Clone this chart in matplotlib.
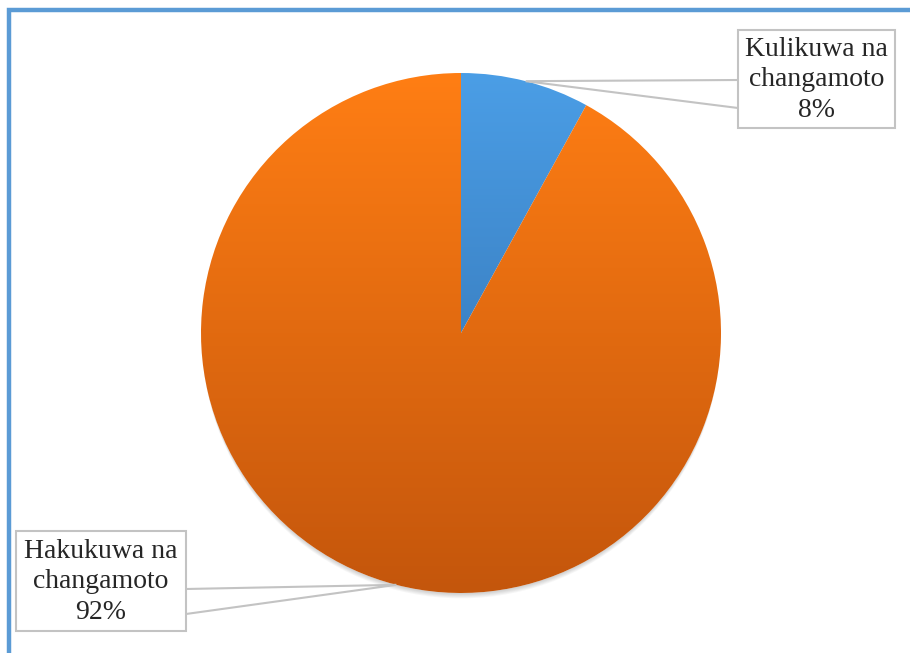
import numpy as np
import matplotlib.pyplot as plt
from matplotlib.patches import Circle, Rectangle
from matplotlib.colors import to_rgb

labels = ["Kulikuwa na\nchangamoto", "Hakukuwa na\nchangamoto"]
values = [8, 92]
top_colors = ["#4b9ee6", "#ff7e14"]
bottom_colors = ["#2d68a6", "#c4560c"]

W, H = 910, 653
fig = plt.figure(figsize=(W / 100, H / 100), dpi=100)
ax = fig.add_axes([0, 0, 1, 1])

def Y(y):
    # image row -> axes y
    return H - y

cx, cy, r = 461, Y(333), 260

# soft shadow under the pie (mostly below)
for i in range(7):
    ax.add_patch(Circle((cx, cy - 1 - i * 0.9), r - 1, color="black", alpha=0.03, lw=0, zorder=1))
ax.add_patch(Circle((cx, cy), r, color="white", lw=0, zorder=1.5))

wedges, _ = ax.pie(values, center=(cx, cy), radius=r, startangle=90, counterclock=False,
                   wedgeprops=dict(linewidth=0))
for w, c0, c1 in zip(wedges, top_colors, bottom_colors):
    w.set_facecolor("none")
    t = np.linspace(0, 1, 256)[:, None, None]
    grad = (1 - t) * np.array(to_rgb(c0)) + t * np.array(to_rgb(c1))
    im = ax.imshow(grad, extent=(cx - r, cx + r, cy - r, cy + r), origin="upper",
                   aspect="auto", zorder=2, interpolation="bilinear")
    im.set_clip_path(w)
ax.set_xlim(0, W)
ax.set_ylim(0, H)
ax.set_aspect("auto")
ax.axis("off")

# callout boxes (left, top, right, bottom in image pixels) and where the leader meets the box
boxes = [(738, 30, 895, 128), (16, 531, 186, 631)]
attach = [(80, 108), (589, 614)]
pcts = ["8%", "92%"]
angles = 90 - (np.cumsum(values) - np.array(values) / 2) / 100 * 360
gray = "#c3c3c3"
for (x0, y0, x1, y1), (ya, yb), lab, pct, a in zip(boxes, attach, labels, pcts, angles):
    px = cx + r * np.cos(np.radians(a))
    py = cy + r * np.sin(np.radians(a))
    ex = x0 if px < x0 else x1
    ax.plot([ex, px, ex], [Y(ya), py, Y(yb)], color=gray, lw=1.5, zorder=3,
            solid_joinstyle="miter")
    ax.add_patch(Rectangle((x0, Y(y1)), x1 - x0, y1 - y0, facecolor="white",
                           edgecolor=gray, lw=1.5, zorder=4))
    ax.text((x0 + x1) / 2, Y((y0 + y1) / 2) - 1, lab + "\n" + pct, ha="center", va="center",
            fontsize=20, family="Liberation Serif", color="#262626", linespacing=1.3,
            zorder=5)

# blue frame on left and top
ax.plot([8.5, 8.5, W], [0, Y(9.5), Y(9.5)], color="#5b9bd5", lw=3.2, zorder=6,
        solid_joinstyle="miter", solid_capstyle="butt")

fig.savefig("out.png", dpi=100)
